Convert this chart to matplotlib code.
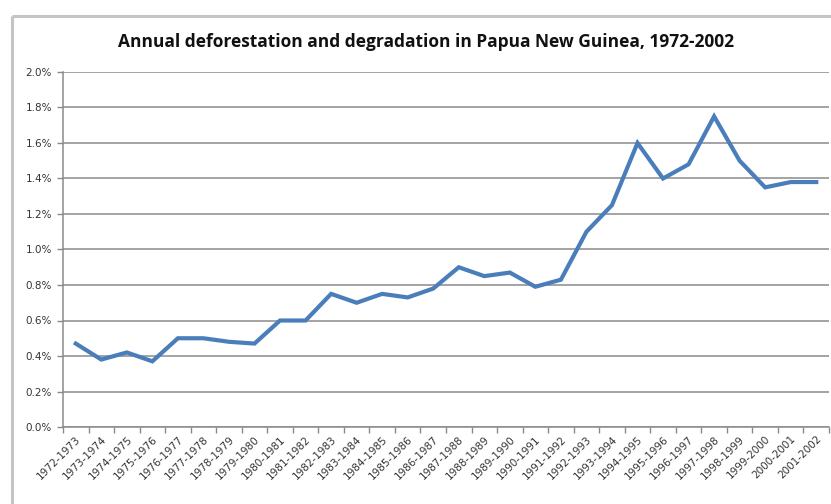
import numpy as np
import matplotlib.pyplot as plt
from matplotlib.ticker import FixedLocator, FuncFormatter
from matplotlib.lines import Line2D

# data
periods = ['1972-1973', '1973-1974', '1974-1975', '1975-1976', '1976-1977',
           '1977-1978', '1978-1979', '1979-1980', '1980-1981', '1981-1982',
           '1982-1983', '1983-1984', '1984-1985', '1985-1986', '1986-1987',
           '1987-1988', '1988-1989', '1989-1990', '1990-1991', '1991-1992',
           '1992-1993', '1993-1994', '1994-1995', '1995-1996', '1996-1997',
           '1997-1998', '1998-1999', '1999-2000', '2000-2001', '2001-2002']
rate = [0.0047, 0.0038, 0.0042, 0.0037, 0.0050,
        0.0050, 0.0048, 0.0047, 0.0060, 0.0060,
        0.0075, 0.0070, 0.0075, 0.0073, 0.0078,
        0.0090, 0.0085, 0.0087, 0.0079, 0.0083,
        0.0110, 0.0125, 0.0160, 0.0140, 0.0148,
        0.0175, 0.0150, 0.0135, 0.0138, 0.0138]
yticks = np.arange(0, 0.0201, 0.002)

fig = plt.figure(figsize=(8.31, 5.04), dpi=100)
# outer chart frame, only left and top edges show
fx, fy = 11.5 / 831, 1 - 15.5 / 504
fig.add_artist(Line2D([fx, fx], [0, fy], transform=fig.transFigure,
                      color='#c4c4c4', linewidth=2.2, solid_capstyle='butt'))
fig.add_artist(Line2D([fx, 1.01], [fy, fy], transform=fig.transFigure,
                      color='#c4c4c4', linewidth=2.2, solid_capstyle='butt'))

ax = fig.add_axes([63/831, 1 - 427/504, 766/831, 355/504])
x = np.arange(len(periods))
ax.plot(x, rate, color='#4a7ebb', linewidth=3, solid_joinstyle='miter')

ax.set_xlim(-0.5, len(periods) - 0.5)
ax.set_ylim(0, 0.02)
ax.set_yticks(yticks)
ax.yaxis.set_major_formatter(FuncFormatter(lambda v, p: f'{v*100:.1f}%'))
ax.grid(axis='y', color='#8a8a8a', linewidth=1.1)
ax.set_axisbelow(True)

ax.xaxis.set_major_locator(FixedLocator(np.arange(-0.5, len(periods), 1)))
ax.xaxis.set_major_formatter(FuncFormatter(lambda v, p: ''))
ax.xaxis.set_minor_locator(FixedLocator(x))
ax.set_xticklabels(periods, minor=True, rotation=45, ha='right',
                   rotation_mode='anchor', fontsize=7.5, color='#333333')
ax.tick_params(axis='x', which='minor', length=0, pad=5)
ax.tick_params(axis='x', which='major', length=4, color='#8a8a8a', width=1)
ax.tick_params(axis='y', length=4, color='#8a8a8a', width=1,
               labelsize=7.5, labelcolor='#333333', pad=4)

for s in ['top', 'right']:
    ax.spines[s].set_visible(False)
for s in ['left', 'bottom']:
    ax.spines[s].set_color('#8a8a8a')
    ax.spines[s].set_linewidth(1.1)

fig.text(0.513, 1 - 42/504, 'Annual deforestation and degradation in Papua New Guinea, 1972-2002',
         ha='center', va='center', fontsize=12.5, fontweight='bold',
         family='Open Sans', color='#111111')

fig.savefig('out.png', dpi=100)
